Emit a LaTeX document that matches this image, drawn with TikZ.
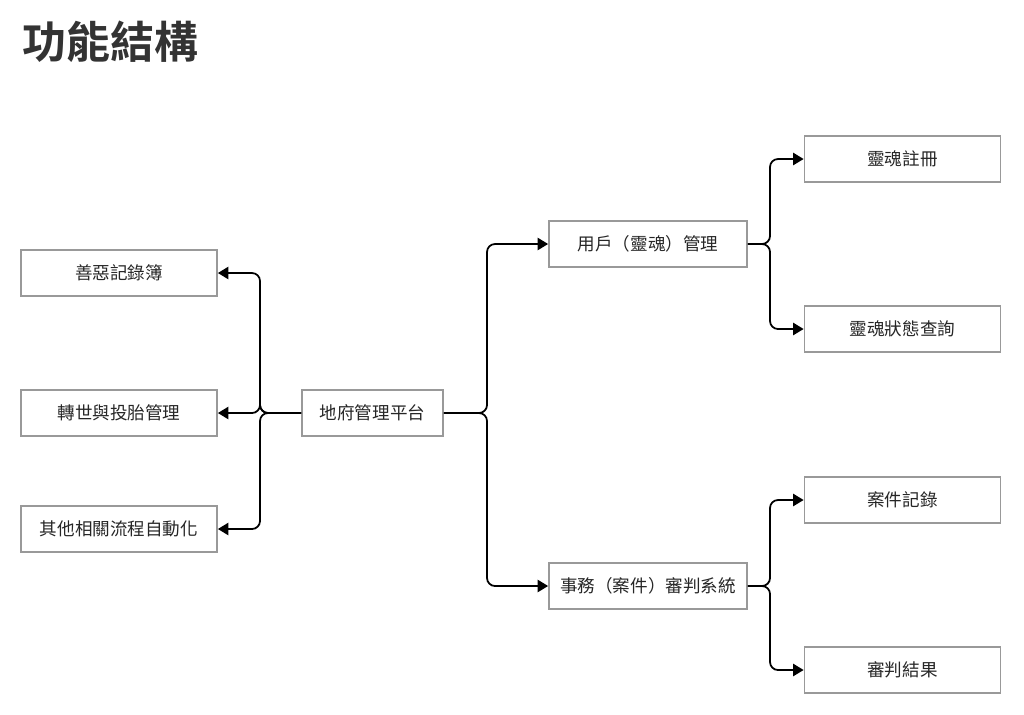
\documentclass[tikz,border=0pt]{standalone}
\usepackage{fontspec}
\newfontfamily\cjk{Noto Sans CJK TC}
\newfontfamily\cjkbold{Noto Sans CJK TC Bold}
\usetikzlibrary{arrows.meta}
\definecolor{boxline}{HTML}{999999}
\definecolor{textgray}{HTML}{333333}
\tikzset{
    mod/.style={draw=boxline, line width=1pt, minimum width=196*0.02cm,
        minimum height=46*0.02cm, inner sep=0pt, font=\cjk\fontsize{10}{12}\selectfont,
        text=black!85},
    conn/.style={line width=1pt, rounded corners=8*0.02cm,
        -{Triangle[length=6pt, width=7pt]}}
}
\begin{document}
\begin{tikzpicture}[x=0.02cm, y=-0.02cm]
        \useasboundingbox (0,0) rectangle (1024,714);
        %% Title
        \node[anchor=west, inner sep=0pt, text=textgray,
            font=\cjkbold\fontsize{25}{28}\selectfont] (title) at (22,42) {功能結構};
        %% Main platform
        \node[mod, minimum width=141*0.02cm] (main) at (372.5,413) {地府管理平台};
        %% Left side
        \node[mod] (record) at (119,273) {善惡記錄簿};
        \node[mod] (rebirth) at (119,413) {轉世與投胎管理};
        \node[mod] (auto) at (119,529) {其他相關流程自動化};
        %% Right side
        \node[mod, minimum width=198*0.02cm] (soul) at (648,244) {用戶（靈魂）管理};
        \node[mod, minimum width=198*0.02cm] (trial) at (648,586) {事務（案件）審判系統};
        \node[mod] (register) at (902.5,159) {靈魂註冊};
        \node[mod] (status) at (902.5,329) {靈魂狀態查詢};
        \node[mod] (caselog) at (902.5,500) {案件記錄};
        \node[mod] (verdict) at (902.5,670) {審判結果};
        %% Connectors
        \foreach \t in {record,rebirth,auto}{
            \draw[conn] (main.west) -- (260,413) |- (\t.east);
        }
        \foreach \t in {soul,trial}{
            \draw[conn] (main.east) -- (487,413) |- (\t.west);
        }
        \foreach \t in {register,status}{
            \draw[conn] (soul.east) -- (770,244) |- (\t.west);
        }
        \foreach \t in {caselog,verdict}{
            \draw[conn] (trial.east) -- (770,586) |- (\t.west);
        }
\end{tikzpicture}
\end{document}
